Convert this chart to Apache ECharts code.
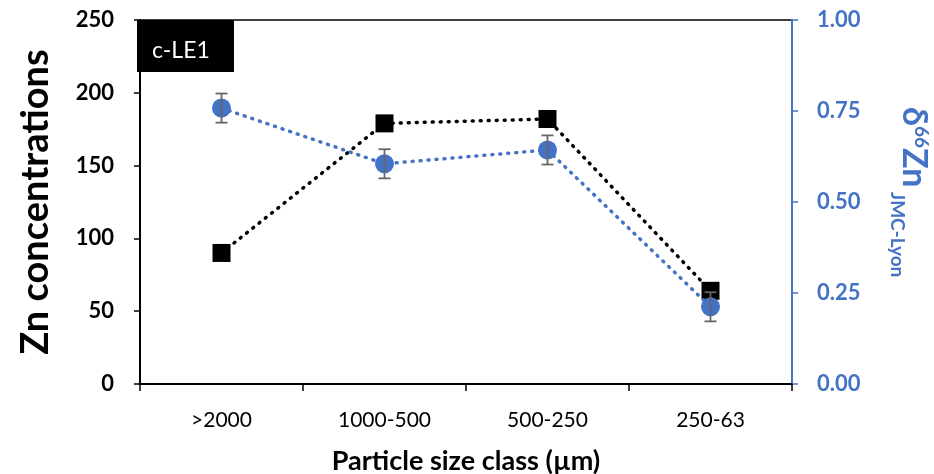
<!DOCTYPE html>
<html>
<head>
<meta charset="utf-8">
<script src="https://cdn.jsdelivr.net/npm/echarts@6/dist/echarts.min.js"></script>
<style>html,body{margin:0;padding:0;background:#fff;}#c{width:934px;height:474px;}</style>
</head>
<body>
<div id="c"></div>
<script>
const categories = ['>2000', '1000-500', '500-250', '250-63'];
const znConc = [90, 179, 182, 64];
const delta66Zn = [0.758, 0.605, 0.643, 0.212];
const deltaErr = [0.04, 0.04, 0.04, 0.04];
const leftTicks = [0, 50, 100, 150, 200, 250];
const rightTicks = [0, 0.25, 0.5, 0.75, 1.0];

const FONT = 'Lato, "Open Sans", sans-serif';
const BLUE = '#4472C4';

const errData = categories.map((c, i) => [i, delta66Zn[i] - deltaErr[i], delta66Zn[i] + deltaErr[i]]);

const chart = echarts.init(document.getElementById('c'));
chart.setOption({
  animation: false,
  backgroundColor: '#fff',
  grid: { left: 140, right: 142, top: 20, bottom: 90, show: true, borderColor: '#000', borderWidth: 1.5,
    containLabel: false, outerBoundsMode: 'none' },
  xAxis: {
    type: 'category',
    data: categories,
    boundaryGap: true,
    axisLine: { lineStyle: { color: '#000', width: 2 } },
    axisTick: { show: true, alignWithLabel: false, length: 7, lineStyle: { color: '#000', width: 1.5 } },
    axisLabel: { color: '#000', fontFamily: FONT, fontSize: 21, margin: 26 },
    name: 'Particle size class (µm)',
    nameLocation: 'middle',
    nameGap: 64,
    nameTextStyle: { color: '#000', fontFamily: FONT, fontSize: 27, fontWeight: 'bold' }
  },
  yAxis: [
    {
      type: 'value', min: 0, max: 250, interval: 50,
      splitLine: { show: false },
      axisLine: { show: true, lineStyle: { color: '#000', width: 2 } },
      axisTick: { show: true, length: 6, lineStyle: { color: '#000', width: 1.5 } },
      axisLabel: { color: '#000', fontFamily: FONT, fontSize: 22, fontWeight: 'bold', margin: 26,
        formatter: v => leftTicks.includes(v) ? String(v) : '' },
      name: 'Zn concentrations',
      nameLocation: 'middle',
      nameGap: 85,
      nameTextStyle: { color: '#000', fontFamily: FONT, fontSize: 38, fontWeight: 'bold' }
    },
    {
      type: 'value', min: 0, max: 1, interval: 0.25, position: 'right',
      splitLine: { show: false },
      axisLine: { show: true, lineStyle: { color: BLUE, width: 2 } },
      axisTick: { show: true, length: 6, lineStyle: { color: BLUE, width: 1.5 } },
      axisLabel: { color: BLUE, fontFamily: FONT, fontSize: 22, fontWeight: 'bold', margin: 25,
        formatter: v => rightTicks.some(t => Math.abs(t - v) < 1e-9) ? v.toFixed(2) : '' }
    }
  ],
  series: [
    {
      type: 'line', name: 'Zn', yAxisIndex: 0, data: znConc,
      symbol: 'rect', symbolSize: 18,
      itemStyle: { color: '#000' },
      lineStyle: { color: '#000', width: 3.5, type: [1, 7], cap: 'round' },
      z: 2
    },
    {
      type: 'line', name: 'd66Zn', yAxisIndex: 1, data: delta66Zn,
      symbol: 'circle', symbolSize: 19,
      itemStyle: { color: BLUE },
      lineStyle: { color: BLUE, width: 3.5, type: [1, 7], cap: 'round' },
      z: 3
    },
    {
      type: 'custom', yAxisIndex: 1, data: errData, z: 4,
      renderItem: function (params, api) {
        const x = api.coord([api.value(0), api.value(1)])[0];
        const lo = api.coord([api.value(0), api.value(1)])[1];
        const hi = api.coord([api.value(0), api.value(2)])[1];
        const cap = 6;
        const st = { stroke: '#666', lineWidth: 1.8 };
        return {
          type: 'group',
          children: [
            { type: 'line', shape: { x1: x, y1: lo, x2: x, y2: hi }, style: st },
            { type: 'line', shape: { x1: x - cap, y1: lo, x2: x + cap, y2: lo }, style: st },
            { type: 'line', shape: { x1: x - cap, y1: hi, x2: x + cap, y2: hi }, style: st }
          ]
        };
      }
    }
  ],
  graphic: [
    { type: 'rect', left: 137, top: 20, shape: { width: 97, height: 52 }, style: { fill: '#000' }, z: 10 },
    { type: 'text', x: 152, y: 51, style: { text: 'c-LE1', fill: '#fff', font: '23px ' + FONT, textVerticalAlign: 'middle' }, z: 11 },
    { type: 'text', x: 914, y: 107, rotation: -Math.PI / 2,
      style: { text: '{b|δ}{s|66}{b|Zn}', fill: BLUE, textVerticalAlign: 'middle',
        rich: {
          b: { fontFamily: FONT, fontSize: 34, fontWeight: 'bold', fill: BLUE, lineHeight: 34, verticalAlign: 'bottom' },
          s: { fontFamily: FONT, fontSize: 19, fontWeight: 'bold', fill: BLUE, lineHeight: 34, verticalAlign: 'top' }
        }
      }, z: 11 },
    { type: 'text', x: 897, y: 192, rotation: -Math.PI / 2,
      style: { text: 'JMC-Lyon', fill: BLUE, font: 'bold 19px ' + FONT, textVerticalAlign: 'middle' }, z: 11 }
  ]
});
</script>
</body>
</html>
